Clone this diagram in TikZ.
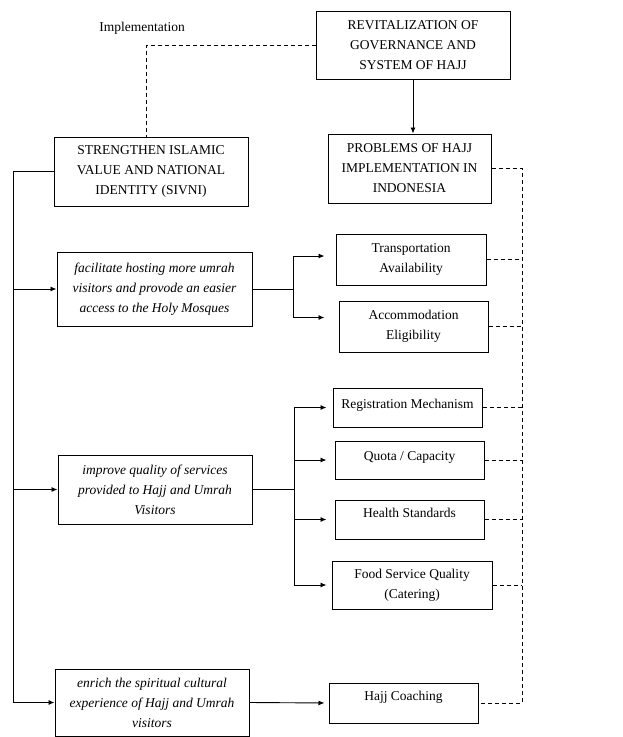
\documentclass[tikz,border=0pt]{standalone}
\usepackage{fontspec}
\setmainfont{Liberation Serif}
\usetikzlibrary{arrows.meta}
\tikzset{
  txt/.style={font=\fontsize{13.5}{20}\selectfont},
  box/.style={txt, draw, line width=1pt, align=center, inner sep=2pt},
  goal/.style={box, font=\fontsize{13.5}{20}\selectfont\itshape},
  arr/.style={-{Latex[length=6pt,width=5pt]}},
  link/.style={dash pattern=on 4pt off 3pt}
}
\begin{document}
\begin{tikzpicture}[x=1pt,y=-1pt,line width=.9pt]
\useasboundingbox (0,0) rectangle (622,737);

\node[txt] (impl) at (142,28) {Implementation};
\node[box,minimum width=194pt,minimum height=68pt] (revit) at (413,45)
  {REVITALIZATION OF\\GOVERNANCE AND\\SYSTEM OF HAJJ};
\node[box,minimum width=194pt,minimum height=69pt] (sivni) at (151,171.5)
  {STRENGTHEN ISLAMIC\\VALUE AND NATIONAL\\IDENTITY (SIVNI)};
\node[box,minimum width=163pt,minimum height=69pt] (probs) at (409.5,168.5)
  {PROBLEMS OF HAJJ\\IMPLEMENTATION IN\\INDONESIA};

\node[goal,minimum width=195pt,minimum height=74pt] (facil) at (154.5,289)
  {facilitate hosting more umrah\\visitors and provode an easier\\access to the Holy Mosques};
\node[goal,minimum width=194pt,minimum height=69pt] (improve) at (155,489.5)
  {improve quality of services\\provided to Hajj and Umrah\\Visitors};
\node[goal,minimum width=194pt,minimum height=67pt] (enrich) at (152,702.5)
  {enrich the spiritual cultural\\experience of Hajj and Umrah\\visitors};

\node[box,minimum width=150pt,minimum height=51pt] (trans) at (411,259.5) {Transportation\\Availability};
\node[box,minimum width=149pt,minimum height=51pt] (accom) at (413.5,326.5) {Accommodation\\Eligibility};
\node[box,minimum width=149pt,minimum height=39pt,text depth=8pt] (regis) at (407.5,407.5) {Registration Mechanism};
\node[box,minimum width=149pt,minimum height=38pt,text depth=7pt] (quota) at (409.5,460) {Quota / Capacity};
\node[box,minimum width=149pt,minimum height=39pt,text depth=14pt] (health) at (409.5,519.5) {Health Standards};
\node[box,minimum width=160pt,minimum height=48pt] (food) at (412,585) {Food Service Quality\\(Catering)};
\node[box,minimum width=149pt,minimum height=40pt,text depth=14pt] (coach) at (403.5,703) {Hajj Coaching};

\coordinate (lrail) at (13,0);
\coordinate (rrail) at (522,0);

\draw[link] (revit.west) -| ([xshift=-5pt]sivni.north);
\draw[arr] (revit.south) -- (revit.south |- probs.north);

\draw[arr] (sivni.west) -- (sivni.west -| lrail) |- (enrich.west);
\draw[arr] (lrail |- facil.west) -- (facil.west);
\draw[arr] (lrail |- improve.west) -- (improve.west);

\draw (facil.east) -- ++(41,0) coordinate (fork1);
\draw[arr,shorten >=11pt] (fork1) |- ([yshift=3.5pt]trans.west);
\draw[arr,shorten >=14pt] (fork1) |- ([yshift=9pt]accom.west);

\draw (improve.east) -- ++(42,0) coordinate (fork2);
\foreach \n/\s in {regis/6,quota/8,health/8,food/5}
{\draw[arr,shorten >=\s pt] (fork2) |- (\n.west);}

\draw[arr,shorten >=4pt] (enrich.east) -- (coach.west);

\draw[link] (probs.east) -| (rrail |- coach.east) -- (coach.east);
\foreach \n in {trans,accom,regis,quota,health,food}
{\draw[link] (\n.east) -- (\n.east -| rrail);}

\end{tikzpicture}
\end{document}
